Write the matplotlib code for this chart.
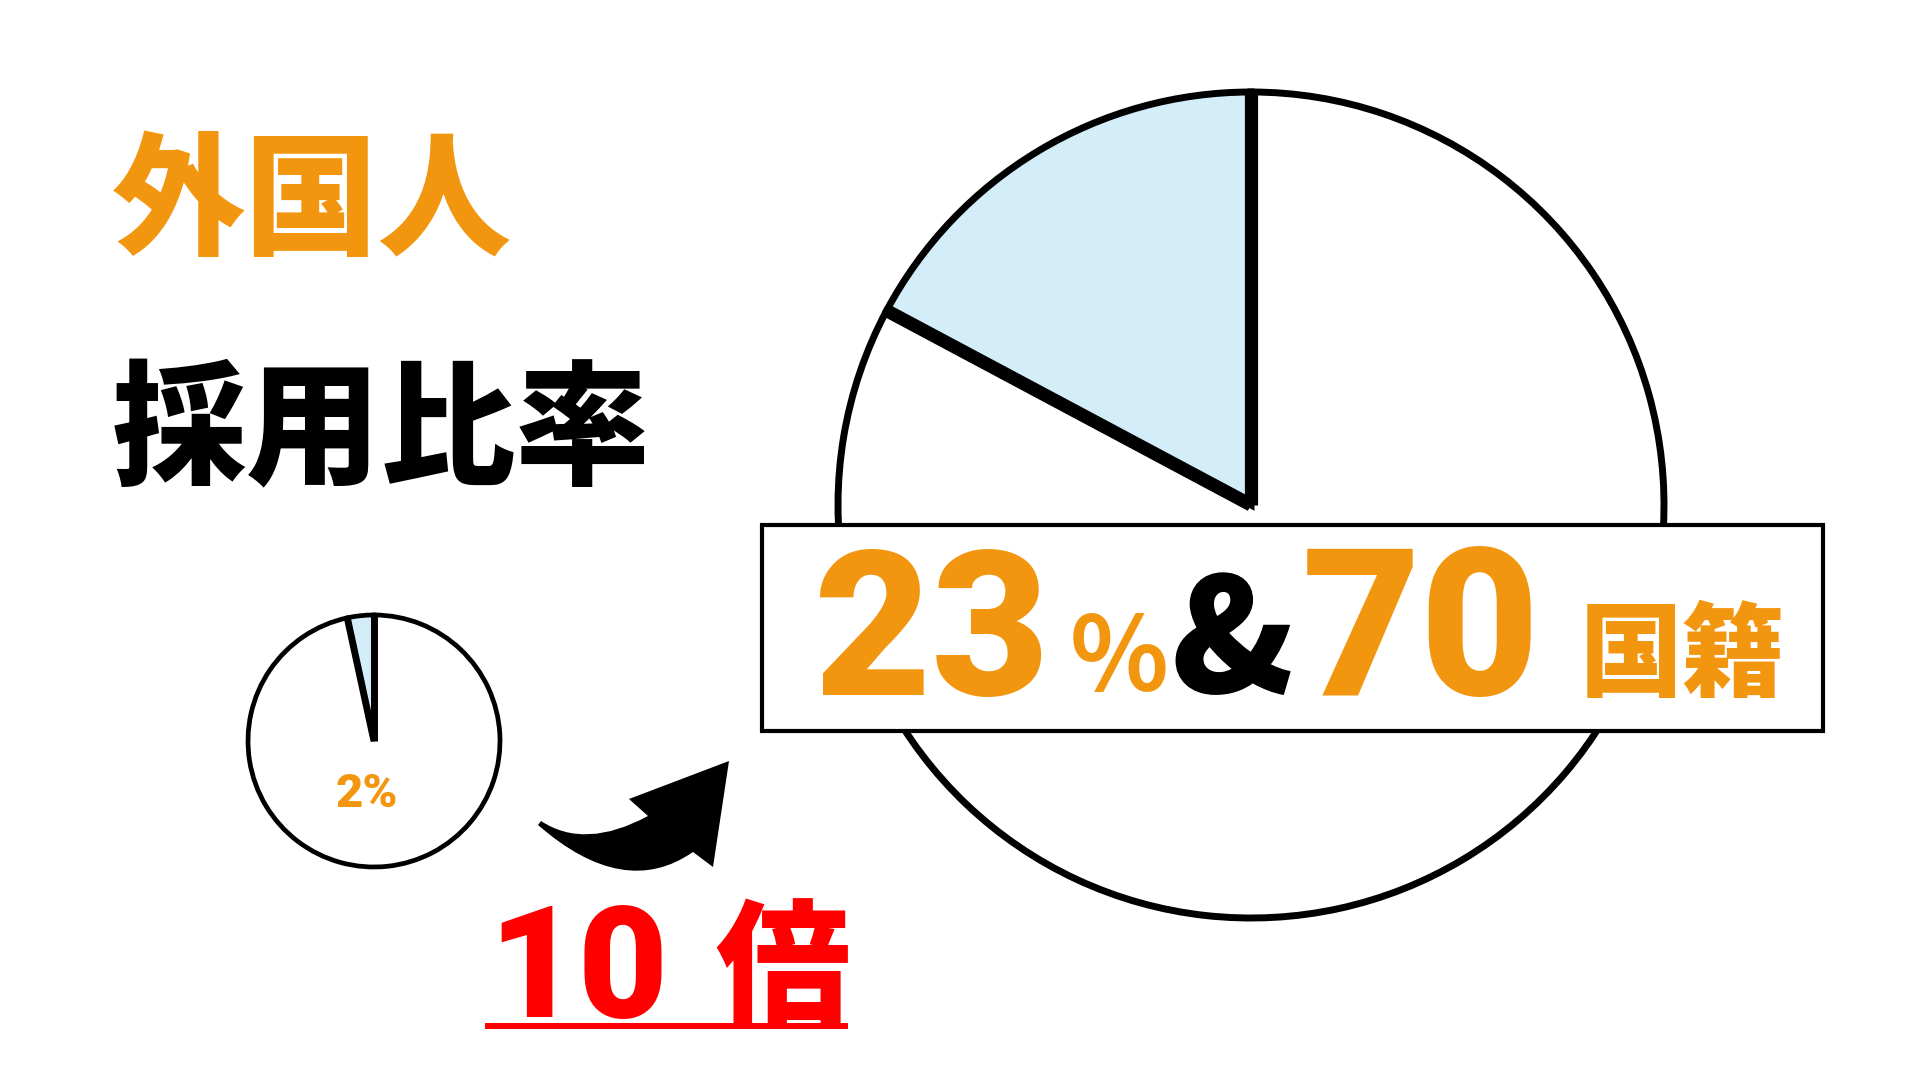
import numpy as np
import matplotlib
matplotlib.use("Agg")
from matplotlib import pyplot as plt
from matplotlib.patches import Rectangle, PathPatch
from matplotlib.path import Path
from matplotlib import patheffects as pe

plt.rcParams['font.family'] = ['Noto Sans CJK JP', 'DejaVu Sans']
DIGITS = ['Roboto', 'DejaVu Sans']

# data
big_values = [17.2, 82.8]      # drawn share of the big pie (label says 23%)
small_values = [3.4, 96.6]     # drawn share of the small pie (label says 2%)
pie_colors = ['#D3EEF9', 'white']

title_top = '外国人'
title_bottom = '採用比率'
small_label = '2%'
ratio_num = '10'
ratio_unit = '倍'
share_num = '23'
country_num = '70'
country_unit = '国籍'

ORANGE = '#F2960F'
RED = '#FF0000'
W, H = 1920, 1080

fig = plt.figure(figsize=(19.2, 10.8), dpi=100)
fig.patch.set_facecolor('white')


def heavy(color, w=1.0):
    # thicken the glyphs a little, the source font is heavier than Noto Bold
    return [pe.withStroke(linewidth=w, foreground=color)]


def pie_axes(cx, cy, r):
    ax = fig.add_axes([(cx - r) / W, 1 - (cy + r) / H, 2 * r / W, 2 * r / H])
    ax.set_xlim(-1, 1)
    ax.set_ylim(-1, 1)
    ax.set_aspect('equal')
    ax.axis('off')
    return ax


def draw_pie(ax, values, lw_arc, lw_edge):
    wedges, _ = ax.pie(values, colors=pie_colors, startangle=90, counterclock=True,
                       radius=1, wedgeprops=dict(edgecolor='black', linewidth=lw_arc))
    ax.set_xlim(-1, 1)
    ax.set_ylim(-1, 1)
    for w in wedges:
        w.set_clip_on(False)
    # heavier radial edges of the highlighted slice
    hi = wedges[0]
    for th in (hi.theta1, hi.theta2):
        t = np.deg2rad(th)
        ax.plot([0, np.cos(t)], [0, np.sin(t)], color='black', lw=lw_edge,
                solid_capstyle='butt', clip_on=False)


ax_big = pie_axes(1251, 505, 413)
draw_pie(ax_big, big_values, 5.0, 9.5)

ax_small = pie_axes(374, 741, 126)
draw_pie(ax_small, small_values, 3.4, 5.0)

# overlay in pixel coordinates
ov = fig.add_axes([0, 0, 1, 1], zorder=5)
ov.set_xlim(0, W)
ov.set_ylim(H, 0)
ov.axis('off')

ov.add_patch(Rectangle((762, 525), 1061, 206, facecolor='white', edgecolor='black', lw=3.0))

ov.text(112, 245, title_top, color=ORANGE, fontsize=96, fontweight='black',
        va='baseline')
ov.text(112, 474, title_bottom, color='black', fontsize=97, fontweight='black',
        va='baseline')

ov.text(336, 807, small_label, color=ORANGE, fontsize=34, fontweight='black',
        va='baseline', family=DIGITS)

ov.text(814, 695, share_num, color=ORANGE, fontsize=146, fontweight='black',
        va='baseline', family=DIGITS)
ov.text(1070, 691, '%', color=ORANGE, fontsize=74, fontweight='bold', va='baseline')
ov.text(1172, 692, '&', color='black', fontsize=113, fontweight='black',
        va='baseline', path_effects=heavy('black'))
ov.text(1302, 695, country_num, color=ORANGE, fontsize=148, fontweight='black',
        va='baseline', family=DIGITS)
ov.text(1580, 688, country_unit, color=ORANGE, fontsize=74, fontweight='black',
        va='baseline')

ov.text(488, 1017, ratio_num, color=RED, fontsize=112, fontweight='black',
        va='baseline', family=DIGITS)
ov.text(715, 1013, ratio_unit, color=RED, fontsize=97, fontweight='black',
        va='baseline')
ov.plot([485, 848], [1025.5, 1025.5], color=RED, lw=4.3, solid_capstyle='butt')

# curved arrow between the pies
verts = [(541, 821), (585, 850), (648, 816), (629, 799), (729, 761), (713, 867),
         (693, 852), (624, 900), (538, 825), (541, 821)]
codes = [Path.MOVETO, Path.CURVE3, Path.CURVE3, Path.LINETO, Path.LINETO, Path.LINETO,
         Path.LINETO, Path.CURVE3, Path.CURVE3, Path.CLOSEPOLY]
ov.add_patch(PathPatch(Path(verts, codes), facecolor='black', edgecolor='none'))

fig.savefig('out.png', dpi=100)
